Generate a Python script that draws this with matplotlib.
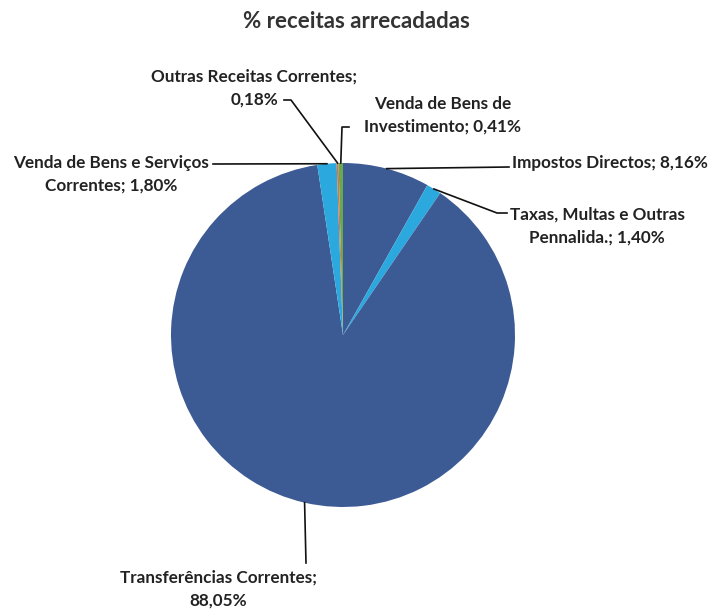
import matplotlib
matplotlib.use("Agg")
import matplotlib.pyplot as plt
import numpy as np

categories = ["Impostos Directos", "Taxas, Multas e Outras\nPennalida.", "Transferências Correntes",
              "Venda de Bens e Serviços\nCorrentes", "Outras Receitas Correntes", "Venda de Bens de\nInvestimento"]
values = [8.16, 1.40, 88.05, 1.80, 0.18, 0.41]
value_labels = ["8,16%", "1,40%", "88,05%", "1,80%", "0,18%", "0,41%"]
colors = ["#3c5a94", "#2ba9de", "#3c5a94", "#2ba9de", "#d9734a", "#6aa84f"]

W, H = 710, 609
CX, CY, R = 343, 335, 172

plt.rcParams['font.family'] = ['Lato', 'DejaVu Sans']
fig = plt.figure(figsize=(W / 100, H / 100), dpi=100)
ax = fig.add_axes([(CX - R) / W, (H - CY - R) / H, 2 * R / W, 2 * R / H])
wedges, _ = ax.pie(values, colors=colors, startangle=90, counterclock=False,
                   wedgeprops=dict(linewidth=0))
ax.set_xlim(-1, 1)
ax.set_ylim(-1, 1)
ax.axis('off')

fig.text(356 / W, 1 - 22 / H, "% receitas arrecadadas", ha='center', va='center',
         fontsize=16, fontweight='bold', color='#333333')


def px2d(px, py):
    return (px - CX) / R, (CY - py) / R


def mid(w):
    a = np.deg2rad((w.theta1 + w.theta2) / 2)
    return np.cos(a) * w.r, np.sin(a) * w.r


# text placement (pixel), alignment, leader path (pixel points before wedge point)
layout = [
    dict(pos=(512, 163), ha='left', path=[(509, 167)], sep='; '),
    dict(pos=(597, 226), ha='center', path=[(507, 213), (497, 213)], sep='; '),
    dict(pos=(218, 589), ha='center', path=[(306, 563)], sep=';\n'),
    dict(pos=(111, 174), ha='center', path=[(213, 164)], sep='; '),
    dict(pos=(254, 88), ha='center', path=[(284, 100), (291, 100)], sep=';\n'),
    dict(pos=(443, 115), ha='center', path=[(349, 127), (342, 127)], sep='; '),
]

for w, cat, vl, lay in zip(wedges, categories, value_labels, layout):
    txt = cat + lay['sep'] + vl
    fig.text(lay['pos'][0] / W, 1 - lay['pos'][1] / H, txt, ha=lay['ha'], va='center',
             multialignment='center', fontsize=12.3, fontweight='bold', color='#222222',
             linespacing=1.5)
    pts = [px2d(*p) for p in lay['path']] + [mid(w)]
    xs, ys = zip(*pts)
    ax.plot(xs, ys, color='#111111', lw=1.2, clip_on=False)

fig.savefig("out.png", dpi=100, facecolor='white')
